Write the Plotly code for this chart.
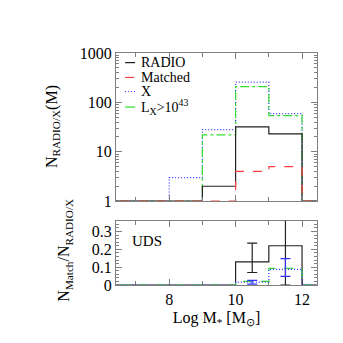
import plotly.graph_objects as go

# ---------------- data ----------------
bin_edges = [6.0, 7.0, 8.0, 9.0, 10.0, 11.0, 12.0, 13.0]
n_radio   = [0, 0, 0, 2, 32, 23, 0]
n_matched = [0, 0, 0, 0, 4, 5, 0]
n_x       = [0, 0, 3, 28, 257, 59, 0]
n_lx43    = [0, 0, 0, 22, 209, 54, 0]

frac_radio = [0, 0, 0, 0, 0.13, 0.22, 0]
frac_x     = [0, 0, 0, 0, 0.016, 0.088, 0]
frac_lx43  = [0, 0, 0, 0, 0.02, 0.093, 0]

err_mass        = [10.5, 11.5]
err_radio_val   = [0.13, 0.22]
err_radio_lo    = [0.07, 0.0]
err_radio_hi    = [0.235, 0.45]
err_x_val       = [0.016, 0.088]
err_x_lo        = [0.005, 0.048]
err_x_hi        = [0.026, 0.148]

ytick_vals = [1, 10, 100, 1000]
xtick_vals = [8, 10, 12]

# ---------------- styling ----------------
FONT = "Liberation Serif"
C_RADIO = "#222222"
C_MATCH = "#ff4040"
C_X = "#3333ff"
C_LX = "#33dd33"
FRAME = "#808080"
DOT = "1px,2px"


def step(vals, floor=None):
    xs, ys = [], []
    for i, v in enumerate(vals):
        if floor is not None:
            v = max(v, floor)
        xs += [bin_edges[i], bin_edges[i + 1]]
        ys += [v, v]
    return xs, ys


fig = go.Figure()

series_top = [
    (n_x, C_X, DOT),
    (n_lx43, C_LX, "dashdot"),
    (n_radio, C_RADIO, "solid"),
    (n_matched, C_MATCH, "dash"),
]
for vals, col, dash in series_top:
    xs, ys = step(vals, floor=1)
    fig.add_trace(go.Scatter(x=xs, y=ys, mode="lines", line=dict(color=col, width=1.2, dash=dash),
                             xaxis="x", yaxis="y", showlegend=False, hoverinfo="skip"))

series_bot = [
    (frac_radio, C_RADIO, "solid"),
    (frac_lx43, C_LX, "dash"),
    (frac_x, C_X, DOT),
]
for vals, col, dash in series_bot:
    xs, ys = step(vals)
    fig.add_trace(go.Scatter(x=xs, y=ys, mode="lines", line=dict(color=col, width=1.2, dash=dash),
                             xaxis="x2", yaxis="y2", showlegend=False, hoverinfo="skip"))

# error bars
fig.add_trace(go.Scatter(
    x=err_mass, y=err_radio_val, mode="markers", marker=dict(size=1, color=C_RADIO, opacity=0),
    error_y=dict(type="data", symmetric=False,
                 array=[h - v for h, v in zip(err_radio_hi, err_radio_val)],
                 arrayminus=[v - l for l, v in zip(err_radio_lo, err_radio_val)],
                 color=C_RADIO, thickness=1.2, width=5),
    xaxis="x2", yaxis="y2", showlegend=False, hoverinfo="skip"))
fig.add_trace(go.Scatter(
    x=err_mass, y=err_x_val, mode="markers", marker=dict(size=1, color=C_X, opacity=0),
    error_y=dict(type="data", symmetric=False,
                 array=[h - v for h, v in zip(err_x_hi, err_x_val)],
                 arrayminus=[v - l for l, v in zip(err_x_lo, err_x_val)],
                 color=C_X, thickness=1.2, width=5),
    xaxis="x2", yaxis="y2", showlegend=False, hoverinfo="skip"))

axis_common = dict(showline=True, linecolor=FRAME, linewidth=1, mirror="ticks",
                   ticks="inside", tickcolor=FRAME, showgrid=False, zeroline=False,
                   tickfont=dict(family=FONT, size=16, color="black"))

fig.update_layout(
    width=335, height=335,
    paper_bgcolor="white", plot_bgcolor="white",
    margin=dict(l=108, r=26, t=45, b=58, autoexpand=False),
    showlegend=False,
    xaxis=dict(domain=[0, 1], range=[6.4, 12.45], anchor="y", showticklabels=False,
               tickvals=xtick_vals, ticklen=6,
               minor=dict(dtick=1, tick0=7, ticklen=4, tickcolor=FRAME, ticks="inside"),
               **axis_common),
    yaxis=dict(domain=[0.3616, 1], type="log", range=[0, 3], anchor="x",
               tickvals=ytick_vals, ticktext=[str(v) for v in ytick_vals], ticklen=6,
               minor=dict(ticklen=3, tickcolor=FRAME, ticks="inside", dtick="D1"),
               **axis_common),
    xaxis2=dict(domain=[0, 1], range=[6.4, 12.45], anchor="y2",
                tickvals=xtick_vals, ticklen=6, layer="below traces",
                minor=dict(dtick=1, tick0=7, ticklen=4, tickcolor=FRAME, ticks="inside"),
                title=dict(text="Log M<sub>*</sub> [M<sub>⊙</sub>]", font=dict(family=FONT, size=16, color="black"),
                           standoff=4),
                **axis_common),
    yaxis2=dict(domain=[0, 0.2768], range=[0, 0.36], anchor="x2",
                tickvals=[0, 0.1, 0.2, 0.3], ticktext=["0", "0.1", "0.2", "0.3"], ticklen=6,
                layer="below traces",
                minor=dict(dtick=0.02, ticklen=3, tickcolor=FRAME, ticks="inside"),
                **axis_common),
)

# y-axis titles as rotated annotations
fig.add_annotation(xref="paper", yref="paper", x=-0.318, y=0.681, text="N<sub>RADIO/X</sub>(M)",
                   textangle=-90, showarrow=False, xanchor="center", yanchor="middle",
                   font=dict(family=FONT, size=16, color="black"))
fig.add_annotation(xref="paper", yref="paper", x=-0.254, y=0.152, text="N<sub>Match</sub>/N<sub>RADIO/X</sub>",
                   textangle=-90, showarrow=False, xanchor="center", yanchor="middle",
                   font=dict(family=FONT, size=16, color="black"))

# legend drawn manually
legend_items = [
    ("RADIO", C_RADIO, "solid", 0.935),
    ("Matched", C_MATCH, "dash", 0.835),
    ("X", C_X, DOT, 0.74),
    ("L<sub>X</sub>>10<sup>43</sup>", C_LX, "solid", 0.635),
]
for text, col, dash, yy in legend_items:
    fig.add_shape(type="line", xref="x domain", yref="y domain", x0=0.045, x1=0.095, y0=yy, y1=yy,
                  line=dict(color=col, width=1.2, dash=dash))
    fig.add_annotation(xref="x domain", yref="y domain", x=0.112, y=yy, text=text, showarrow=False,
                       xanchor="left", yanchor="middle",
                       font=dict(family=FONT, size=14, color="black"))

fig.add_annotation(xref="x2 domain", yref="y2 domain", x=0.07, y=0.68, text="UDS", showarrow=False,
                   xanchor="left", yanchor="middle", font=dict(family=FONT, size=15, color="black"))

fig.write_html("out.html")
